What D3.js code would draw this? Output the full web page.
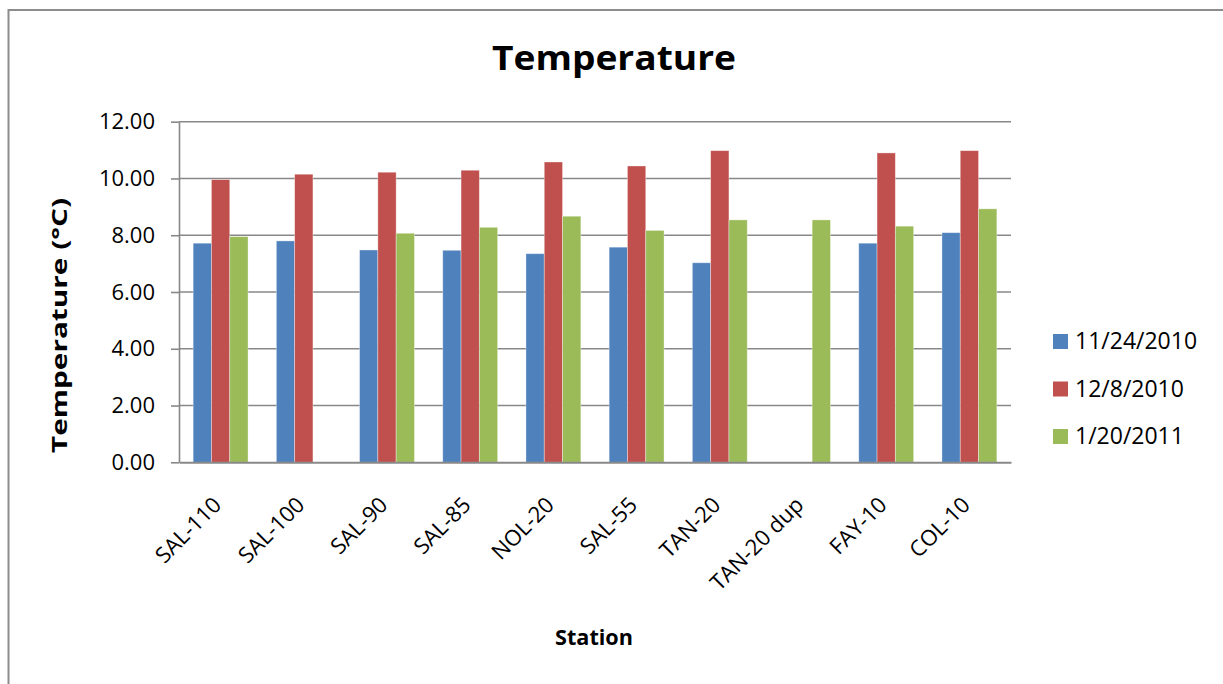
<!DOCTYPE html>
<html>
<head>
<meta charset="utf-8">
<script src="https://cdn.jsdelivr.net/npm/d3@7"></script>
<style>
  html, body { margin: 0; padding: 0; background: #fff; }
  svg { display: block; }
  text { font-family: "Open Sans", Lato, sans-serif; fill: #000; }
</style>
</head>
<body>
<svg id="chart" width="1223" height="684"></svg>
<script>
// Stations sampled
const stations = ["SAL-110", "SAL-100", "SAL-90", "SAL-85", "NOL-20", "SAL-55", "TAN-20", "TAN-20 dup", "FAY-10", "COL-10"];
// Sampling dates (series)
const seriesNames = ["11/24/2010", "12/8/2010", "1/20/2011"];
// Water temperature (°C) per station, one array per sampling date; null = not sampled
const temp20101124 = [7.72, 7.80, 7.48, 7.47, 7.35, 7.58, 7.03, null, 7.72, 8.09];
const temp20101208 = [9.96, 10.15, 10.22, 10.29, 10.58, 10.44, 10.98, null, 10.90, 10.98];
const temp20110120 = [7.95, null, 8.07, 8.28, 8.67, 8.17, 8.54, 8.54, 8.32, 8.93];
const yTicks = [0, 2, 4, 6, 8, 10, 12];
const seriesColors = ["#4F81BD", "#C0504D", "#9BBB59"];

const seriesValues = [temp20101124, temp20101208, temp20110120];

const svg = d3.select("#chart");
const plot = { left: 179, right: 1011, top: 121.7, bottom: 462.3 };
const gridColor = "#888888";

// Outer frame of the chart area
svg.append("path")
  .attr("d", "M8.5,684 V10 H1223")
  .attr("fill", "none")
  .attr("stroke", "#8c8c8c")
  .attr("stroke-width", 2);

const x = d3.scaleBand().domain(stations).range([plot.left, plot.right]).paddingInner(0).paddingOuter(0);
const xs = d3.scaleBand().domain(seriesNames).range([0, x.bandwidth()]).paddingInner(0).paddingOuter(0.773);
const y = d3.scaleLinear().domain([0, 12]).range([plot.bottom, plot.top]);
const color = d3.scaleOrdinal().domain(seriesNames).range(seriesColors);

// Horizontal gridlines
svg.append("g")
  .selectAll("line")
  .data(yTicks.filter(t => t > 0))
  .join("line")
  .attr("x1", plot.left).attr("x2", plot.right)
  .attr("y1", d => y(d)).attr("y2", d => y(d))
  .attr("stroke", gridColor).attr("stroke-width", 1.6);

// Bars
const rows = [];
stations.forEach((s, i) => {
  seriesNames.forEach((n, j) => {
    const v = seriesValues[j][i];
    if (v != null) rows.push({ station: s, series: n, value: v });
  });
});
svg.append("g")
  .selectAll("rect")
  .data(rows)
  .join("rect")
  .attr("x", d => x(d.station) + xs(d.series))
  .attr("y", d => y(d.value))
  .attr("width", xs.bandwidth())
  .attr("height", d => y(0) - y(d.value))
  .attr("fill", d => color(d.series))
  .attr("stroke", "rgba(255,255,255,0.45)")
  .attr("stroke-width", 0.8);

// Y axis
const yAxis = svg.append("g")
  .attr("transform", `translate(${plot.left},0)`)
  .call(d3.axisLeft(y).tickValues(yTicks).tickFormat(d3.format(".2f")).tickSizeInner(8).tickSizeOuter(0).tickPadding(16));
yAxis.select(".domain").attr("stroke", gridColor).attr("stroke-width", 1.6);
yAxis.selectAll(".tick line").attr("stroke", gridColor).attr("stroke-width", 1.6);
yAxis.selectAll(".tick text").style("font-size", "22px").attr("fill", "#000");

// X axis
const xAxis = svg.append("g")
  .attr("transform", `translate(0,${plot.bottom})`)
  .call(d3.axisBottom(x).tickSize(0).tickPadding(0));
xAxis.select(".domain").attr("stroke", gridColor).attr("stroke-width", 2);
xAxis.selectAll(".tick text")
  .style("font-size", "22px")
  .attr("fill", "#000")
  .attr("text-anchor", "end")
  .attr("dy", 0)
  .attr("transform", "translate(2,44) rotate(-45)");

// Title
svg.append("text")
  .attr("x", 614).attr("y", 70)
  .attr("text-anchor", "middle")
  .attr("textLength", 244).attr("lengthAdjust", "spacingAndGlyphs")
  .style("font-size", "34px").style("font-weight", "bold")
  .text("Temperature");

// Axis titles
svg.append("text")
  .attr("transform", "translate(67,325.5) rotate(-90)")
  .attr("text-anchor", "middle")
  .attr("textLength", 255).attr("lengthAdjust", "spacingAndGlyphs")
  .style("font-size", "22px").style("font-weight", "bold")
  .text("Temperature (°C)");

svg.append("text")
  .attr("x", 594).attr("y", 645)
  .attr("text-anchor", "middle")
  .attr("textLength", 78).attr("lengthAdjust", "spacingAndGlyphs")
  .style("font-size", "21px").style("font-weight", "bold")
  .text("Station");

// Legend
const legend = svg.append("g").attr("transform", "translate(1053,334)");
const item = legend.selectAll("g").data(seriesNames).join("g")
  .attr("transform", (d, i) => `translate(0,${i * 47.5})`);
item.append("rect").attr("width", 15).attr("height", 15).attr("fill", d => color(d));
item.append("text").attr("x", 22).attr("y", 15).style("font-size", "23px").text(d => d);
</script>
</body>
</html>
